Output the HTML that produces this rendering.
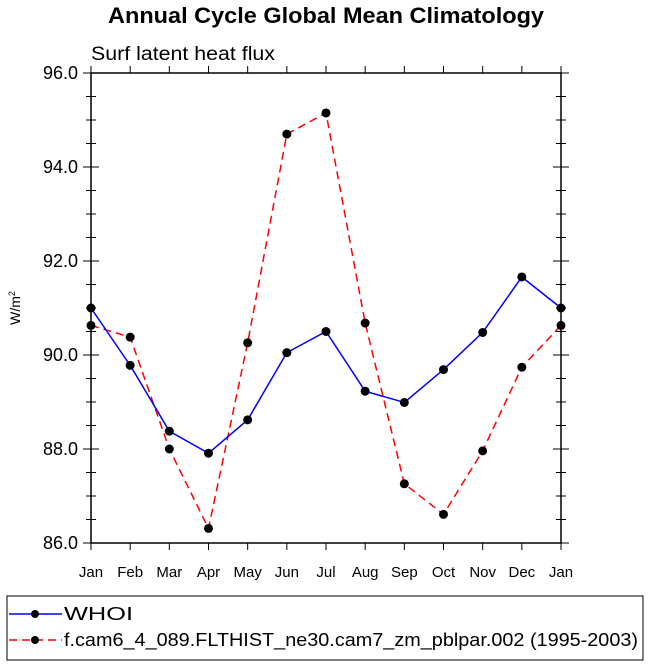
<!DOCTYPE html>
<html><head><meta charset="utf-8"><style>
body{margin:0;background:#fff;width:649px;height:665px;overflow:hidden;font-family:"Liberation Sans",Arial,sans-serif}
</style></head><body>
<svg width="649" height="665" font-family="Liberation Sans, Arial, sans-serif">
<text x="108" y="23" textLength="436" lengthAdjust="spacingAndGlyphs" font-size="22" font-weight="bold">Annual Cycle Global Mean Climatology</text>
<text x="91" y="60" textLength="184" lengthAdjust="spacingAndGlyphs" font-size="19">Surf latent heat flux</text>
<text transform="translate(20,308) rotate(-90)" text-anchor="middle" font-size="14">W/m<tspan dy="-5" font-size="9">2</tspan></text>
<g id="axes"></g>
<g id="series"></g>
<g>
<rect x="7" y="596" width="636" height="64" fill="none" stroke="#000" stroke-width="1"/>
<g>
<line x1="9" y1="614" x2="62" y2="614" stroke="#0000ff" stroke-width="1.5"/>
<circle cx="35" cy="614" r="4" fill="#000"/>
<text x="64" y="620" textLength="69" lengthAdjust="spacingAndGlyphs" font-size="18">WHOI</text></g>
<g>
<line x1="9" y1="640" x2="62" y2="640" stroke="#ff0000" stroke-width="1.5" stroke-dasharray="8,5"/>
<circle cx="35" cy="640" r="4" fill="#000"/>
<text x="64" y="646" textLength="574" lengthAdjust="spacingAndGlyphs" font-size="18">f.cam6_4_089.FLTHIST_ne30.cam7_zm_pblpar.002 (1995-2003)</text></g>
</g>
</svg>
<script>
const months=["Jan","Feb","Mar","Apr","May","Jun","Jul","Aug","Sep","Oct","Nov","Dec","Jan"];
const whoi=[91.0,89.78,88.38,87.91,88.62,90.05,90.5,89.23,88.99,89.69,90.48,91.66,91.0];
const cam=[90.63,90.38,88.0,86.31,90.26,94.7,95.15,90.68,87.26,86.61,87.96,89.74,90.63];
const yTicks=[86,88,90,92,94,96];
const X0=91,X1=561,Y0=73,Y1=543,YMIN=86,YMAX=96;
const xs=i=>X0+(X1-X0)*i/(months.length-1);
const ys=v=>Y1-(v-YMIN)/(YMAX-YMIN)*(Y1-Y0);
const NS="http://www.w3.org/2000/svg";
function mk(t,a,p){const e=document.createElementNS(NS,t);for(const k in a)e.setAttribute(k,a[k]);p.appendChild(e);return e;}
const ax=document.getElementById('axes');
const frame=mk('rect',{x:X0,y:Y0,width:X1-X0,height:Y1-Y0,fill:'none',stroke:'#000','stroke-width':1.5},ax);


months.forEach((m,i)=>{const x=xs(i);
mk('line',{x1:x,y1:Y1,x2:x,y2:Y1+7,stroke:'#000'},ax);
mk('line',{x1:x,y1:Y0,x2:x,y2:Y0-7,stroke:'#000'},ax);
const t=mk('text',{x:x,y:Y1+34,'text-anchor':'middle','font-size':15},ax);t.textContent=m;

});
for(let v=YMIN;v<=YMAX+1e-9;v+=0.5){const y=ys(v);const major=Math.abs(v-Math.round(v/2)*2)<1e-9;const L=major?8:5;
mk('line',{x1:X0,y1:y,x2:X0+L,y2:y,stroke:'#000'},ax);mk('line',{x1:X0,y1:y,x2:X0-L,y2:y,stroke:'#000'},ax);
mk('line',{x1:X1,y1:y,x2:X1-L,y2:y,stroke:'#000'},ax);mk('line',{x1:X1,y1:y,x2:X1+L,y2:y,stroke:'#000'},ax);}
yTicks.forEach(v=>{const t=mk('text',{x:X0-13,y:ys(v)+6,'text-anchor':'end','font-size':18},ax);t.textContent=v.toFixed(1);

});
const sg=document.getElementById('series');
function draw(vals,color,dash,name){const g=mk('g',{},sg);


const pts=vals.map((v,i)=>xs(i)+','+ys(v)).join(' ');
const a={points:pts,fill:'none',stroke:color,'stroke-width':1.5};if(dash)a['stroke-dasharray']=dash;mk('polyline',a,g);
vals.forEach((v,i)=>{const c=mk('circle',{cx:xs(i),cy:ys(v),r:4.5,fill:'#000'},g);

});}
draw(cam,'#ff0000','8,5','series-cam6');
draw(whoi,'#0000ff',null,'series-whoi');
</script>
</body></html>
